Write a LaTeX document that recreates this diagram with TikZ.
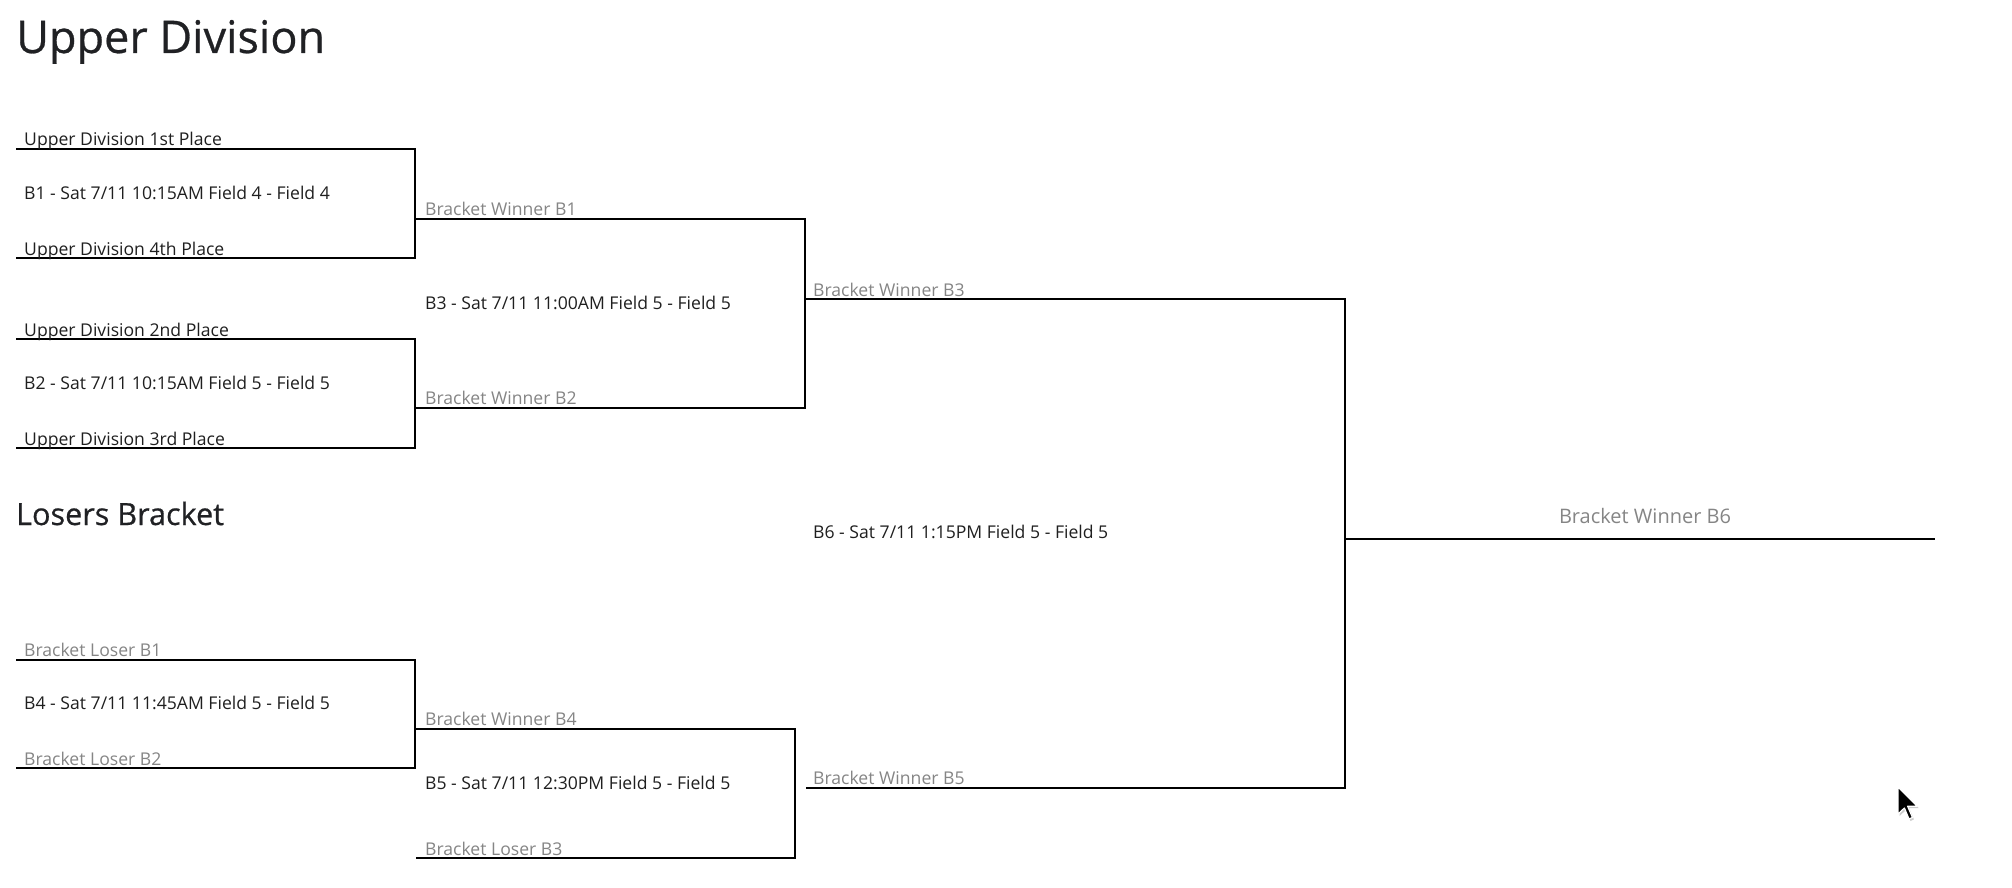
\documentclass[tikz,border=0pt]{standalone}
\usepackage{fontspec}
\setmainfont{Open Sans}
\newfontfamily\headfont[FakeBold=0.6]{Open Sans}
\definecolor{ink}{HTML}{202124}
\definecolor{body}{HTML}{1F1F1F}
\definecolor{muted}{HTML}{858585}
\begin{document}
\begin{tikzpicture}[x=1pt,y=-1pt,
  wire/.style={line width=2pt, line join=miter, draw=black},
  lbl/.style={anchor=base west, inner sep=0pt, text=body, font=\fontsize{17.6}{20}\selectfont},
  glbl/.style={lbl, text=muted},
  head/.style={anchor=base west, inner sep=0pt, text=ink}]
\useasboundingbox (0,0) rectangle (2012,888);
% headings
\node[head, font=\headfont\fontsize{45}{50}\selectfont] (title1) at (16,53) {Upper Division};
\node[head, font=\headfont\fontsize{30.6}{34}\selectfont] (title2) at (16,525) {Losers Bracket};
% coordinates
\coordinate (a1) at (16,149);  \coordinate (a1c) at (415,149);
\coordinate (a2) at (16,258);  \coordinate (a2c) at (415,258);
\coordinate (a3) at (16,339);  \coordinate (a3c) at (415,339);
\coordinate (a4) at (16,448);  \coordinate (a4c) at (415,448);
\coordinate (l1) at (16,660);  \coordinate (l1c) at (415,660);
\coordinate (l2) at (16,768);  \coordinate (l2c) at (415,768);
\coordinate (w1) at (415,219); \coordinate (w1c) at (805,219);
\coordinate (w2) at (415,408); \coordinate (w2c) at (805,408);
\coordinate (w4) at (415,729); \coordinate (w4c) at (795,729);
\coordinate (lb3) at (416,858); \coordinate (lb3c) at (795,858);
\coordinate (w3) at (805,299); \coordinate (w3c) at (1345,299);
\coordinate (w5) at (806,788); \coordinate (w5c) at (1345,788);
\coordinate (w6) at (1345,539); \coordinate (w6e) at (1935,539);
% brackets
\draw[wire] (a1) -- (a1c) -- (a2c) -- (a2);
\draw[wire] (a3) -- (a3c) -- (a4c) -- (a4);
\draw[wire] (l1) -- (l1c) -- (l2c) -- (l2);
\draw[wire] (w1) -- (w1c) -- (w2c) -- (w2);
\draw[wire] (w4) -- (w4c) -- (lb3c) -- (lb3);
\draw[wire] (w3) -- (w3c) -- (w5c) -- (w5);
\draw[wire] (w6) -- (w6e);
% texts round 1
\node[lbl] (s1) at (24,145.5) {Upper Division 1st Place};
\node[lbl] (m1) at (24,199) {B1 - Sat 7/11 10:15AM Field 4 - Field 4};
\node[lbl] (s4) at (24,255) {Upper Division 4th Place};
\node[lbl] (s2) at (24,336) {Upper Division 2nd Place};
\node[lbl] (m2) at (24,389) {B2 - Sat 7/11 10:15AM Field 5 - Field 5};
\node[lbl] (s3) at (24,445) {Upper Division 3rd Place};
\node[glbl] (lbl1) at (24,656) {Bracket Loser B1};
\node[lbl] (m4) at (24,709) {B4 - Sat 7/11 11:45AM Field 5 - Field 5};
\node[glbl] (lbl2) at (24,765) {Bracket Loser B2};
% round 2
\node[glbl] (wb1) at (425,215) {Bracket Winner B1};
\node[lbl] (m3) at (425,309) {B3 - Sat 7/11 11:00AM Field 5 - Field 5};
\node[glbl] (wb2) at (425,404) {Bracket Winner B2};
\node[glbl] (wb4) at (425,725) {Bracket Winner B4};
\node[lbl] (m5) at (425,789) {B5 - Sat 7/11 12:30PM Field 5 - Field 5};
\node[glbl] (lbl3) at (425,855) {Bracket Loser B3};
% round 3
\node[glbl] (wb3) at (813,296) {Bracket Winner B3};
\node[lbl] (m6) at (813,538) {B6 - Sat 7/11 1:15PM Field 5 - Field 5};
\node[glbl] (wb5) at (813,784) {Bracket Winner B5};
% final
\node[glbl, anchor=base, font=\fontsize{20}{24}\selectfont] (wb6) at (1645,523) {Bracket Winner B6};
% mouse pointer
\begin{scope}[shift={(1898,787)}]
\fill[black!20] (1.5,2) -- ++(0,27) -- ++(6.4,-6) -- ++(4.6,11) -- ++(3.4,-1.6) -- ++(-4.8,-11.2) -- ++(9.6,0) -- cycle;
\filldraw[fill=black, draw=white, line width=1.2pt, line join=round] (0,0) -- (0,27) -- (6.4,21) -- (11,32) -- (14.4,30.4) -- (9.6,19.2) -- (19.2,19.2) -- cycle;
\end{scope}
\end{tikzpicture}
\end{document}
